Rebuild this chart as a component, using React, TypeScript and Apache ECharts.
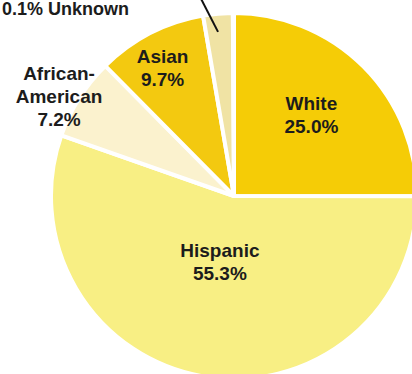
import React, { useEffect, useRef } from "react";
import * as echarts from "echarts";

const categories = ["White", "Hispanic", "African-American", "Asian", "Other", "Unknown"];
const values = [25.0, 55.3, 7.2, 9.7, 2.6, 0.1];
const displayNames = ["White", "Hispanic", "African-\nAmerican", "Asian", "", "Unknown"];
const colors = ["#F5CC06", "#F8EF84", "#FBF2CE", "#F3C910", "#F0E3A4", "#F0E3A4"];

// label placement (radius factor, angle tweak in degrees)
const labelRadius = [0.614, 0.37, 1.1, 0.8, 0, 0];
const labelAngleDelta = [-1.5, 2.3, -2.7, -2, 0, 0];

const CX = 234;
const CY = 196;
const R = 183;

function midAngles(): number[] {
  const total = values.reduce((a, b) => a + b, 0);
  const out: number[] = [];
  let acc = 0;
  for (const v of values) {
    out.push(((acc + v / 2) / total) * 360);
    acc += v;
  }
  return out;
}

export default function App() {
  const ref = useRef<HTMLDivElement>(null);
  useEffect(() => {
    if (!ref.current) return;
    const chart = echarts.init(ref.current, null, { renderer: "svg" });
    const total = values.reduce((a, b) => a + b, 0);
    const mids = midAngles();
    // thin pale wedge = Other + Unknown
    const thinStart = values.slice(0, 4).reduce((a, b) => a + b, 0);
    const thinMid = ((thinStart + (values[4] + values[5]) / 2) / total) * 360;
    const tr = (thinMid * Math.PI) / 180;
    const lx = CX + 0.9 * R * Math.sin(tr) - 2;
    const ly = CY - 0.9 * R * Math.cos(tr);

    const font = "'Liberation Sans', Arial, Helvetica, sans-serif";
    chart.setOption({
      animation: false,
      backgroundColor: "#ffffff",
      series: [
        {
          type: "pie",
          center: [CX, CY],
          radius: [0, R],
          startAngle: 90,
          clockwise: true,
          avoidLabelOverlap: false,
          itemStyle: { borderColor: "#ffffff", borderWidth: 4 },
          label: {
            show: true,
            position: "inside",
            color: "#1c1c1c",
            fontFamily: font,
            fontWeight: "bold",
            fontSize: 19,
            lineHeight: 23,
            align: "center",
            formatter: (p: any) => {
              const i = p.dataIndex;
              if (categories[i] === "Unknown") return `${values[i].toFixed(1)}% ${displayNames[i]}`;
              return `${displayNames[i]}\n${values[i].toFixed(1)}%`;
            },
          },
          labelLine: { show: false },
          labelLayout: (p: any) => {
            const i = p.dataIndex;
            if (categories[i] === "Unknown") {
              return { x: 2, y: 9, align: "left", verticalAlign: "middle", fontSize: 18 };
            }
            const a = ((mids[i] + labelAngleDelta[i]) * Math.PI) / 180;
            const r = labelRadius[i] * R;
            return {
              x: CX + r * Math.sin(a),
              y: CY - r * Math.cos(a),
              align: "center",
              verticalAlign: "middle",
            };
          },
          emphasis: { disabled: true },
          data: categories.map((c, i) => ({
            name: c,
            value: values[i],
            itemStyle: { color: colors[i] },
            label: { show: displayNames[i] !== "" },
          })),
        },
      ],
      graphic: [
        {
          type: "line",
          shape: { x1: lx, y1: ly, x2: lx - 19, y2: ly - 37 },
          style: { stroke: "#111111", lineWidth: 2 },
          z: 10,
        },
      ],
    });
    return () => chart.dispose();
  }, []);
  return (
    <div
      ref={ref}
      style={{ position: "fixed", left: 0, top: 0, width: 412, height: 374, background: "#fff" }}
    />
  );
}
